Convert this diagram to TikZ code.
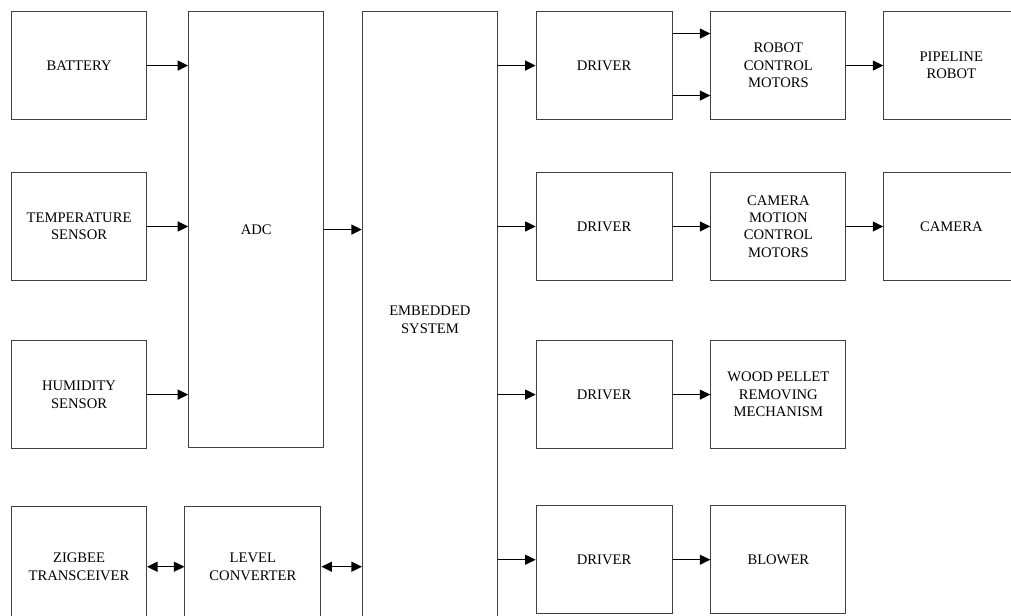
\documentclass[tikz,border=0pt]{standalone}
\usepackage{fontspec}
\setmainfont{Liberation Serif}
\usetikzlibrary{arrows.meta, positioning}

\begin{document}
\begin{tikzpicture}[
  node distance=0.94cm,
  box/.style={draw=black!75, line width=0.8pt, minimum width=3.375cm,
              minimum height=2.7cm, align=center, inner sep=2pt,
              font=\fontsize{10.4}{12.4}\selectfont},
  arr/.style={-{Triangle[length=2.6mm, width=2.5mm]}, line width=0.8pt},
  biarr/.style={{Triangle[length=2.6mm, width=2.5mm]}-{Triangle[length=2.6mm, width=2.5mm]}, line width=0.8pt}
]
\useasboundingbox (0,0) rectangle (25.275,-15.375);
% sensors and adc
\node[box, anchor=north west] (bat) at (0.275,-0.275) {BATTERY};
\node[box, below=1.295cm of bat] (tmp) {TEMPERATURE\\SENSOR};
\node[box, below=1.475cm of tmp] (hum) {HUMIDITY\\SENSOR};
\node[box, below=1.425cm of hum, minimum height=3cm] (zig) {ZIGBEE\\TRANSCEIVER};
\node[box, right=1.025cm of bat.north east, anchor=north west, minimum height=10.9cm] (adc) {ADC};
\node[box, right=0.93cm of zig, minimum width=3.4cm, minimum height=3cm] (lvl) {LEVEL\\CONVERTER};
\node[box, right=of adc.north east, anchor=north west, minimum height=15.4cm] (es) {EMBEDDED\\SYSTEM};
% drivers and loads
\node[box, right=of es.north east, anchor=north west, minimum width=3.4cm] (drv1) {DRIVER};
\node[box, below=1.295cm of drv1, minimum width=3.4cm] (drv2) {DRIVER};
\node[box, below=1.475cm of drv2, minimum width=3.4cm] (drv3) {DRIVER};
\node[box, below=1.4cm of drv3, minimum width=3.4cm] (drv4) {DRIVER};
\node[box, right=of drv1] (rcm) {ROBOT\\CONTROL\\MOTORS};
\node[box, right=0.92cm of rcm] (pip) {PIPELINE\\ROBOT};
\node[box, right=of drv2] (cmm) {CAMERA\\MOTION\\CONTROL\\MOTORS};
\node[box, right=0.92cm of cmm] (cam) {CAMERA};
\node[box, right=of drv3] (wood) {WOOD PELLET\\REMOVING\\MECHANISM};
\node[box, right=of drv4] (blow) {BLOWER};

\draw[arr] (bat) -- (bat -| adc.west);
\draw[arr] (tmp) -- (tmp -| adc.west);
\draw[arr] (hum) -- (hum -| adc.west);
\draw[arr] (adc) -- (adc -| es.west);
\draw[biarr] (zig) -- (lvl);
\draw[biarr] (lvl) -- (lvl -| es.west);
\draw[arr] (es.east |- drv1) -- (drv1);
\draw[arr] (es.east |- drv2) -- (drv2);
\draw[arr] (es.east |- drv3) -- (drv3);
\draw[arr] (es.east |- drv4) -- (drv4);
\draw[arr] ([yshift=0.8cm]drv1.east) -- ([yshift=0.8cm]rcm.west);
\draw[arr] ([yshift=-0.75cm]drv1.east) -- ([yshift=-0.75cm]rcm.west);
\draw[arr] (rcm) -- (pip);
\draw[arr] (drv2) -- (cmm);
\draw[arr] (cmm) -- (cam);
\draw[arr] (drv3) -- (wood);
\draw[arr] (drv4) -- (blow);
\end{tikzpicture}
\end{document}
